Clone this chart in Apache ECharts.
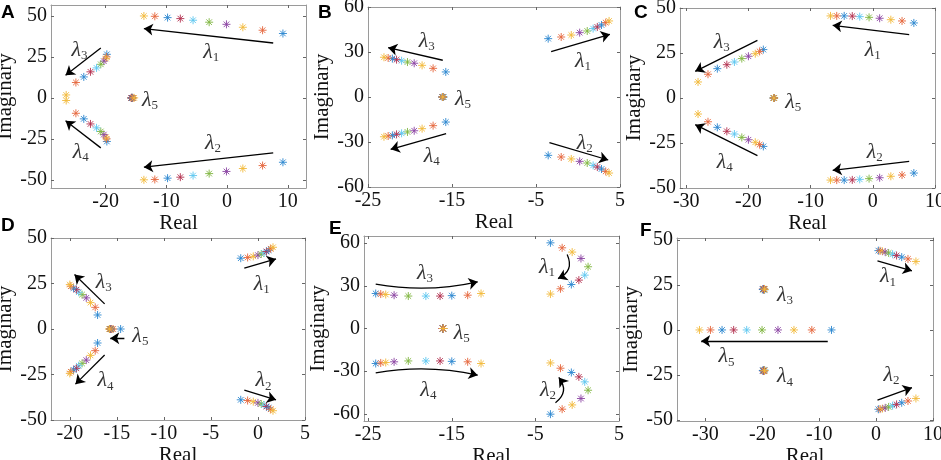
<!DOCTYPE html>
<html>
<head>
<meta charset="utf-8">
<script src="https://cdn.jsdelivr.net/npm/echarts@6/dist/echarts.min.js"></script>
<style>
  html, body { margin: 0; padding: 0; background: #fff; }
  #main { width: 941px; height: 460px; }
</style>
</head>
<body>
<div id="main"></div>
<script>
// eigenvalue tracks, 10 parameter steps each (point 1 -> point 10)
// panel A
var aL1re = [9.2, 5.85, 2.6, -0.1, -2.95, -5.6, -7.7, -9.8, -11.9, -13.7];
var aL1im = [39.3, 41.3, 43.1, 44.9, 46.2, 47.4, 48.4, 49.0, 49.8, 50.0];
var aL2im = [-39.3, -41.3, -43.1, -44.9, -46.2, -47.4, -48.4, -49.0, -49.8, -50.0];
var aL3re = [-19.8, -19.85, -19.95, -20.3, -20.8, -21.5, -22.5, -23.6, -24.9, -26.5];
var aL3im = [26.6, 25.0, 24.0, 22.4, 20.5, 18.3, 15.9, 12.8, 9.4, 1.8];
var aL4im = [-26.6, -25.0, -24.0, -22.4, -20.5, -18.3, -15.9, -12.8, -9.4, -1.6];
var aL5re = [-15.7, -15.8, -15.6, -15.75, -15.7, -15.65, -15.7, -15.6, -15.5, -15.3];
// panel B
var bL1re = [-3.55, -2.0, -0.8, 0.2, 1.1, 1.8, 2.3, 2.8, 3.3, 3.7];
var bL1im = [38.9, 40.0, 41.3, 42.9, 44.0, 45.6, 46.7, 48.0, 49.6, 50.7];
var bL2im = [-38.9, -40.0, -41.3, -42.9, -44.0, -45.6, -46.7, -48.0, -49.6, -50.7];
var bL3re = [-15.74, -17.25, -18.56, -19.5, -20.3, -21.0, -21.6, -22.1, -22.6, -23.1];
var bL3im = [16.7, 19.1, 21.1, 22.5, 23.3, 24.2, 24.9, 25.6, 26.0, 26.5];
var bL4im = [-16.7, -19.1, -21.1, -22.5, -23.3, -24.2, -24.9, -25.6, -26.0, -26.5];
var bL5re = [-16.0, -16.1, -16.1, -16.15, -16.1, -16.05, -16.1, -16.15, -16.1, -16.1];
// panel C
var cL1re = [6.6, 4.7, 2.9, 1.1, -0.6, -2.1, -3.3, -4.6, -5.8, -6.8];
var cL1im = [41.7, 42.8, 43.5, 44.3, 44.8, 45.2, 45.5, 45.6, 45.6, 45.6];
var cL2im = [-41.7, -42.8, -43.5, -44.3, -44.8, -45.2, -45.5, -45.6, -45.6, -45.6];
var cL3re = [-17.6, -18.2, -18.9, -20.0, -21.06, -22.25, -23.47, -25.0, -26.5, -28.1];
var cL3im = [26.9, 25.9, 24.6, 23.2, 21.9, 20.0, 18.5, 16.3, 13.2, 8.9];
var cL4im = [-26.9, -25.9, -24.6, -23.2, -21.9, -20.0, -18.5, -16.3, -13.2, -8.9];
var cL5re = [-15.9, -15.9, -15.95, -15.9, -15.85, -15.9, -15.9, -15.95, -15.9, -15.9];
// panel D
var dL1re = [-1.83, -1.1, -0.5, 0.0, 0.35, 0.65, 0.9, 1.15, 1.35, 1.6];
var dL1im = [38.9, 39.3, 39.9, 40.6, 41.2, 41.8, 42.6, 43.3, 44.1, 44.9];
var dL2im = [-38.9, -39.3, -39.9, -40.6, -41.2, -41.8, -42.6, -43.3, -44.1, -44.9];
var dL3re = [-17.05, -17.3, -17.8, -18.25, -18.7, -19.05, -19.3, -19.6, -19.9, -20.0];
var dL3im = [7.7, 11.9, 14.5, 17.1, 18.9, 20.2, 21.6, 22.5, 23.5, 24.4];
var dL4im = [-7.7, -11.9, -14.5, -17.1, -18.9, -20.2, -21.6, -22.5, -23.5, -24.4];
var dL5re = [-14.6, -15.4, -15.55, -15.6, -15.65, -15.7, -15.7, -15.75, -15.75, -15.8];
// panel E
var eL1re = [-3.2, -1.8, -0.6, 0.45, 1.3, 0.9, 0.2, -0.7, -2.0, -3.2];
var eL1im = [60.2, 56.7, 53.7, 49.2, 43.4, 37.5, 34.0, 30.9, 27.9, 24.2];
var eL2im = [-60.2, -56.7, -53.7, -49.2, -43.4, -37.5, -34.0, -30.9, -27.9, -24.2];
var eL3re = [-24.1, -23.5, -22.9, -21.9, -20.2, -18.1, -16.4, -15.0, -13.1, -11.5];
var eL3im = [24.6, 24.2, 23.9, 23.4, 22.8, 22.8, 22.8, 23.1, 23.4, 24.6];
var eL4im = [-24.6, -24.2, -23.9, -23.4, -22.8, -22.8, -22.8, -23.1, -23.4, -24.6];
var eL5re = [-16.05, -16.1, -16.05, -16.1, -16.0, -16.05, -16.1, -16.05, -16.0, -16.05];
// panel F
var fL1re = [0.4, 0.7, 1.1, 1.6, 2.2, 2.9, 3.6, 4.5, 5.6, 7.0];
var fL1im = [44.0, 43.9, 43.6, 43.2, 42.7, 42.0, 41.3, 40.4, 39.4, 38.0];
var fL2im = [-44.0, -43.9, -43.6, -43.2, -42.7, -42.0, -41.3, -40.4, -39.4, -38.0];
var fL3re = [-19.6, -19.7, -19.8, -19.9, -19.8, -19.7, -19.8, -19.9, -19.7, -19.6];
var fL3im = [22.3, 22.5, 22.7, 22.6, 22.4, 22.8, 22.6, 22.5, 22.7, 22.6];
var fL4im = [-22.3, -22.5, -22.7, -22.6, -22.4, -22.8, -22.6, -22.5, -22.7, -22.6];
var fL5re = [-7.84, -11.3, -14.44, -17.25, -20.05, -22.75, -25.04, -27.08, -29.12, -31.05];
var zeros = [0, 0, 0, 0, 0, 0, 0, 0, 0, 0];

// tick labels
var ticksA = [-20, -10, 0, 10], ticksB = [-25, -15, -5, 5], ticksC = [-30, -20, -10, 0, 10];
var ticksD = [-20, -15, -10, -5, 0, 5], ticksF = [-30, -20, -10, 0, 10];
var ticks50 = [-50, -25, 0, 25, 50], ticks60 = [-60, -30, 0, 30, 60];

// arrows [x1, y1, x2, y2, curveness] and labels [x, y, subscript]
var aArrows = [[7.6, 33.5, -13.7, 42.3], [7.6, -33.5, -13.7, -42.3], [-20.8, 30.5, -26.6, 13.8], [-20.8, -30.5, -26.6, -14]];
var aLabels = [[-2.6, 28, 1], [-2.3, -27.8, 2], [-24.3, 29, 3], [-24.1, -33, 4], [-12.7, -1.4, 5]];
var bArrows = [[-3.2, 30.3, 3.8, 41.8], [-3.4, -30.4, 3.6, -42], [-16.1, 24.5, -22.6, 32.9], [-15.7, -24.4, -22.3, -34.9]];
var bLabels = [[0.6, 24, 1], [0.8, -30.9, 2], [-18, 37.3, 3], [-17.4, -39.3, 4], [-13.7, -1.5, 5]];
var cArrows = [[5.85, 35.2, -6.45, 40.4], [5.85, -35.2, -6.45, -40.2], [-18.55, 32, -28.55, 14.8], [-18.55, -32, -28.55, -14.8]];
var cLabels = [[0, 26.5, 1], [0.3, -30, 2], [-24.3, 31.1, 3], [-23.8, -35.5, 4], [-12.8, -2.2, 5]];
var dArrows = [[-1.45, 33.4, 1.92, 38.5], [-1.45, -33.6, 1.92, -38.9], [-16.3, 13.8, -19.5, 29.9], [-16.3, -14.3, -19.4, -30.3], [-14.2, -5.1, -15.7, -5.1]];
var dLabels = [[0.4, 24.8, 1], [0.6, -28.4, 2], [-16.4, 25.7, 3], [-16.2, -28.4, 4], [-12.5, -3.7, 5]];
var eArrows = [[-24.1, 31.2, -11.9, 32.8, -0.1], [-24.1, -31.2, -11.9, -32.8, 0.1], [-1.2, 52, -2.3, 35.1, 0.5], [-2.6, -52.2, -2.2, -34.4, -0.5]];
var eLabels = [[-3.6, 43.4, 1], [-3.5, -43.3, 2], [-18.2, 38.6, 3], [-17.8, -43.3, 4], [-13.8, -3.5, 5]];
var fArrows = [[0.24, 38.3, 6.3, 32.8], [0.24, -38.9, 6.3, -32], [-8.5, -6.1, -30.75, -6.1]];
var fLabels = [[2.1, 29.6, 1], [2.7, -25, 2], [-16, 19.4, 3], [-16, -25.9, 4], [-26.3, -14.8, 5]];

var COLORS = ['#2a86cf', '#e5663c', '#f2b93a', '#8c45a3', '#80b640', '#5dc6f0', '#b3304f'];
var STAR = 'path://M0,5L10,5M5,0L5,10M1.5,1.5L8.5,8.5M8.5,1.5L1.5,8.5';
var SERIF = '"Liberation Serif", "Times New Roman", serif';

var panels = [
  { letter: 'A', lx: 1, ly: 3, grid: { left: 51, top: 5, width: 255, height: 183 },
    x: [-29, 13], xt: ticksA, y: [-55, 56.7], yt: ticks50,
    tracks: [[aL1re, aL1im], [aL1re, aL2im], [aL3re, aL3im], [aL3re, aL4im], [aL5re, zeros]],
    arrows: aArrows, labels: aLabels },
  { letter: 'B', lx: 318, ly: 3, grid: { left: 368, top: 7, width: 252, height: 180 },
    x: [-25, 5], xt: ticksB, y: [-60, 60], yt: ticks60,
    tracks: [[bL1re, bL1im], [bL1re, bL2im], [bL3re, bL3im], [bL3re, bL4im], [bL5re, zeros]],
    arrows: bArrows, labels: bLabels },
  { letter: 'C', lx: 634, ly: 3, grid: { left: 680, top: 8, width: 255, height: 180 },
    x: [-31, 10], xt: ticksC, y: [-50, 50], yt: ticks50,
    tracks: [[cL1re, cL1im], [cL1re, cL2im], [cL3re, cL3im], [cL3re, cL4im], [cL5re, zeros]],
    arrows: cArrows, labels: cLabels },
  { letter: 'D', lx: 1, ly: 216, grid: { left: 51, top: 238, width: 254, height: 182 },
    x: [-22, 5], xt: ticksD, y: [-50, 50], yt: ticks50,
    tracks: [[dL1re, dL1im], [dL1re, dL2im], [dL3re, dL3im], [dL3re, dL4im], [dL5re, zeros]],
    arrows: dArrows, labels: dLabels },
  { letter: 'E', lx: 329, ly: 219, grid: { left: 364, top: 236, width: 255, height: 185 },
    x: [-25.5, 5], xt: ticksB, y: [-65, 65], yt: ticks60,
    tracks: [[eL1re, eL1im], [eL1re, eL2im], [eL3re, eL3im], [eL3re, eL4im], [eL5re, zeros]],
    arrows: eArrows, labels: eLabels },
  { letter: 'F', lx: 640, ly: 221, grid: { left: 677, top: 238, width: 256, height: 183 },
    x: [-35, 10], xt: ticksF, y: [-50.5, 51], yt: ticks50,
    tracks: [[fL1re, fL1im], [fL1re, fL2im], [fL3re, fL3im], [fL3re, fL4im], [fL5re, zeros]],
    arrows: fArrows, labels: fLabels }
];

function axis(i, range, ticks, pos, main) {
  var isX = pos === 'bottom' || pos === 'top';
  var ax = {
    gridIndex: i, type: 'value', position: pos, min: range[0], max: range[1],
    axisLine: { onZero: false, lineStyle: { color: '#9a9a9a', width: 1 } },
    axisTick: { show: true, inside: true, length: 3, customValues: ticks, lineStyle: { color: '#666' } },
    axisLabel: { show: main, customValues: ticks, color: '#111', fontFamily: SERIF, fontSize: 20, margin: 4 },
    splitLine: { show: false }
  };
  if (main) {
    ax.name = isX ? 'Real' : 'Imaginary';
    ax.nameLocation = 'middle';
    ax.nameGap = isX ? 17 : 33;
    ax.nameTextStyle = { color: '#111', fontFamily: SERIF, fontSize: 21 };
  }
  return ax;
}

var option = {
  animation: false,
  backgroundColor: '#fff',
  grid: [], xAxis: [], yAxis: [], series: [], graphic: []
};

panels.forEach(function (p, i) {
  var g = Object.assign({ outerBoundsMode: 'none', containLabel: false }, p.grid);
  option.grid.push(g);
  option.xAxis.push(axis(i, p.x, p.xt, 'bottom', true), axis(i, p.x, p.xt, 'top', false));
  option.yAxis.push(axis(i, p.y, p.yt, 'left', true), axis(i, p.y, p.yt, 'right', false));

  var pts = [];
  p.tracks.forEach(function (t) {
    t[0].forEach(function (re, k) {
      pts.push({ value: [re, t[1][k]], itemStyle: { borderColor: COLORS[k % 7] } });
    });
  });
  option.series.push({
    type: 'scatter', xAxisIndex: 2 * i, yAxisIndex: 2 * i,
    symbol: STAR, symbolSize: 8, symbolKeepAspect: true,
    itemStyle: { color: 'rgba(0,0,0,0)', borderWidth: 1, opacity: 0.9 },
    data: pts, silent: true, z: 2
  });
  option.series.push({
    type: 'lines', coordinateSystem: 'cartesian2d', xAxisIndex: 2 * i, yAxisIndex: 2 * i,
    symbol: ['none', 'arrow'], symbolSize: 9, silent: true, z: 3,
    lineStyle: { color: '#000', width: 1.3, opacity: 1 },
    data: p.arrows.map(function (a) {
      return { coords: [[a[0], a[1]], [a[2], a[3]]], lineStyle: { curveness: a[4] || 0 } };
    })
  });
  option.series.push({
    type: 'scatter', xAxisIndex: 2 * i, yAxisIndex: 2 * i,
    symbolSize: 1, itemStyle: { color: 'rgba(0,0,0,0)' }, silent: true, z: 4,
    data: p.labels,
    label: {
      show: true, position: 'inside',
      formatter: function (d) { return '{l|λ}{s|' + d.value[2] + '}'; },
      rich: {
        l: { fontFamily: SERIF, fontStyle: 'italic', fontSize: 22, color: '#000', lineHeight: 24 },
        s: { fontFamily: SERIF, fontSize: 13, color: '#000', lineHeight: 10, verticalAlign: 'bottom' }
      }
    }
  });
  option.graphic.push({
    type: 'text', left: p.lx, top: p.ly, z: 10,
    style: { text: p.letter, font: 'bold 19px "Liberation Sans", Arial, sans-serif', fill: '#000' }
  });
});

var chart = echarts.init(document.getElementById('main'));
chart.setOption(option);
</script>
</body>
</html>
